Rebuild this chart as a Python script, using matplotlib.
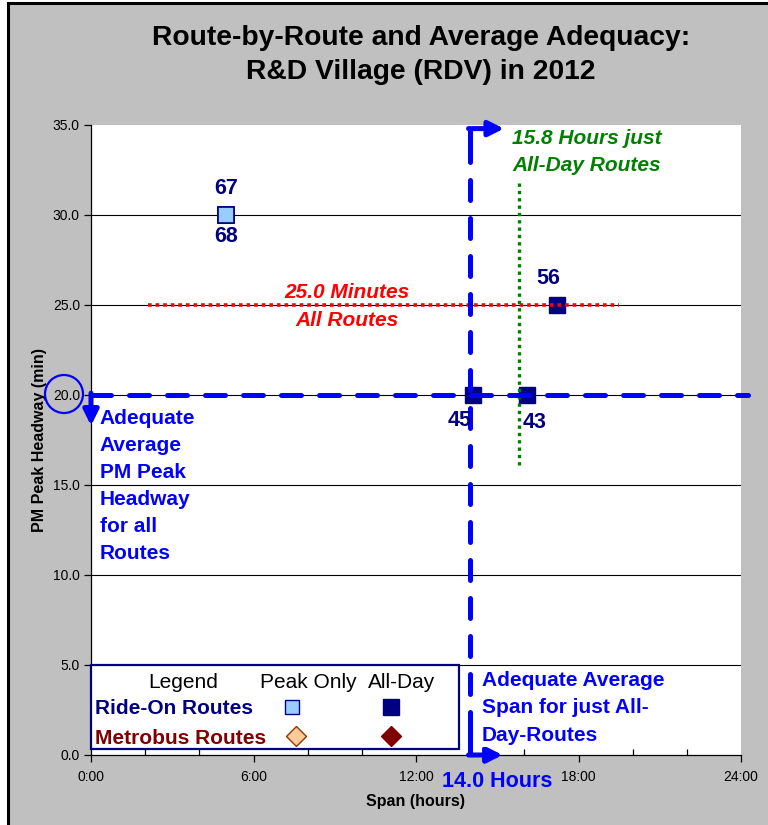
import matplotlib
matplotlib.use("Agg")
import matplotlib.pyplot as plt
from matplotlib.patches import Rectangle, Circle
from matplotlib.lines import Line2D

plt.rcParams['font.family'] = ['Liberation Sans', 'DejaVu Sans']

# ---- data ----
route_labels = ["67", "68", "56", "45", "43"]
route_span_h = [5.0, 5.0, 17.2, 14.1, 16.1]
route_headway = [30.0, 30.0, 25.0, 20.0, 20.0]
route_type = ["peak", "peak", "allday", "allday", "allday"]

adequate_headway = 20.0          # min, threshold
adequate_span = 14.0             # hours, threshold
avg_headway_all = 25.0           # min, all routes
avg_span_allday = 15.8           # hours, all-day routes only

x_ticks = [0, 6, 12, 18, 24]
x_tick_labels = ["0:00", "6:00", "12:00", "18:00", "24:00"]
y_ticks = [0, 5, 10, 15, 20, 25, 30, 35]

NAVY = "#000080"
LIGHTBLUE = "#99CCFF"
DARKRED = "#800000"
PEACH = "#FFCC99"
BLUE = "#0000FF"
GREEN = "#008000"
GRAY = "#C0C0C0"

W, H = 768, 825
fig = plt.figure(figsize=(W / 100, H / 100), dpi=100, facecolor="white")

# chart frame
fig.patches.append(Rectangle((7.5 / W, -0.1), 1.2, 1.1 - 3.5 / H,
                             transform=fig.transFigure, facecolor=GRAY,
                             edgecolor="black", linewidth=2.2, zorder=-5))

ax = fig.add_axes([91 / W, 70 / H, 650 / W, 630 / H])
ax.set_zorder(1)
ax.set_facecolor("white")
ax.set_xlim(0, 24)
ax.set_ylim(0, 35)
for s in ("top", "right"):
    ax.spines[s].set_visible(False)
for s in ("left", "bottom"):
    ax.spines[s].set_color("black")
    ax.spines[s].set_linewidth(0.9)

ax.set_xticks(x_ticks)
ax.set_xticklabels(x_tick_labels)
ax.set_xticks([2, 4, 8, 10, 14, 16, 20, 22], minor=True)
ax.set_yticks(y_ticks)
ax.set_yticklabels([f"{v:.1f}" for v in y_ticks])
ax.tick_params(axis="x", which="major", direction="out", length=5, width=0.9,
               labelsize=10, pad=6)
ax.tick_params(axis="x", which="minor", direction="in", length=4, width=0.9)
ax.tick_params(axis="y", which="major", direction="out", length=5, width=0.9,
               labelsize=10, pad=3)

for y in y_ticks[1:-1]:
    ax.axhline(y, color="black", linewidth=0.8, zorder=1)

ax.set_xlabel("Span (hours)", fontsize=11.5, fontweight="bold", labelpad=7)
ax.set_ylabel("PM Peak Headway (min)", fontsize=11.5, fontweight="bold", labelpad=4)

fig.text(421 / W, 1 - 55 / H,
         "Route-by-Route and Average Adequacy:\nR&D Village (RDV) in 2012",
         ha="center", va="center", fontsize=20.3, fontweight="bold",
         linespacing=1.42, color="black")

# ---- route markers ----
for lab, x, y, t in zip(route_labels, route_span_h, route_headway, route_type):
    if t == "peak":
        ax.plot(x, y, marker="s", markersize=11, markerfacecolor=LIGHTBLUE,
                markeredgecolor=NAVY, markeredgewidth=1.2, zorder=4, clip_on=False)
    else:
        ax.plot(x, y, marker="s", markersize=12, markerfacecolor=NAVY,
                markeredgecolor=NAVY, zorder=4, clip_on=False)

label_offsets = {"67": (0, 27), "68": (0, -22), "56": (-9, 27),
                 "45": (-13, -25), "43": (8, -28)}
for lab, x, y in zip(route_labels, route_span_h, route_headway):
    dx, dy = label_offsets[lab]
    ax.annotate(lab, (x, y), xytext=(dx * 0.72, dy * 0.72), textcoords="offset points",
                ha="center", va="center", fontsize=15.5, fontweight="bold",
                color=NAVY, zorder=6)

# ---- average lines ----
ax.plot([2.1, 19.5], [avg_headway_all, avg_headway_all], color="red",
        linewidth=2.6, linestyle=(0, (1, 1.1)), zorder=5)
ax.text(9.45, avg_headway_all - 0.08, "25.0 Minutes\nAll Routes", ha="center",
        va="center", fontsize=15, fontweight="bold", fontstyle="italic",
        color="red", linespacing=1.55, zorder=6)

ax.plot([avg_span_allday, avg_span_allday], [16.1, 31.8], color=GREEN,
        linewidth=2.4, linestyle=(0, (1, 1.2)), zorder=5)
ax.text(15.55, 33.5, f"{avg_span_allday:.1f} Hours just\nAll-Day Routes",
        ha="left", va="center", fontsize=15, fontweight="bold",
        fontstyle="italic", color=GREEN, linespacing=1.5, zorder=6,
        bbox=dict(facecolor="white", edgecolor="none", pad=1))

# ---- adequacy thresholds ----
dash = dict(color=BLUE, linewidth=3.6, dashes=(4, 3.6), dash_capstyle="round",
            solid_capstyle="round", zorder=5, clip_on=False)
ax.plot([0, 24.26], [adequate_headway, adequate_headway], **dash)
ax.plot([adequate_span, adequate_span], [1.3, 34.5], **dash)

arrow = dict(arrowstyle="-|>,head_length=0.9,head_width=0.45", color=BLUE,
             linewidth=3.6, shrinkA=0, shrinkB=0)
# top corner arrow
ax.plot([adequate_span, adequate_span], [33.5, 34.8], color=BLUE, linewidth=3.6,
        solid_capstyle="butt", zorder=5, clip_on=False)
ax.annotate("", xy=(15.25, 34.8), xytext=(adequate_span - 0.06, 34.8),
            arrowprops=arrow, annotation_clip=False, zorder=5)
# bottom corner arrow
ax.plot([adequate_span, adequate_span], [0.0, 1.3], color=BLUE, linewidth=3.6,
        solid_capstyle="butt", zorder=5, clip_on=False)
ax.annotate("", xy=(15.2, 0.0), xytext=(adequate_span - 0.06, 0.0),
            arrowprops=arrow, annotation_clip=False, zorder=5)
# left down arrow
ax.annotate("", xy=(0, 18.3), xytext=(0, adequate_headway + 0.1),
            arrowprops=arrow, annotation_clip=False, zorder=5)

fig.patches.append(Circle((64, H - 394), 19, transform=None, facecolor="none",
                          edgecolor=BLUE, linewidth=1.6, zorder=7))

ax.text(0.33, 19.25, "Adequate\nAverage\nPM Peak\nHeadway\nfor all\nRoutes",
        ha="left", va="top", fontsize=15, fontweight="bold", color=BLUE,
        linespacing=1.54, zorder=6)

ax.text(14.44, 4.68, "Adequate Average\nSpan for just All-\nDay-Routes",
        ha="left", va="top", fontsize=15, fontweight="bold", color=BLUE,
        linespacing=1.56, zorder=6,
        bbox=dict(facecolor="white", edgecolor="none", pad=1.5))

ax.text(15.0, -1.45, f"{adequate_span:.1f} Hours", ha="center", va="center",
        fontsize=15.5, fontweight="bold", color=BLUE, clip_on=False)

# ---- legend panel ----
def fx(px):
    return px / W


def fy(py):
    return 1 - py / H


lx0, ly0, lx1, ly1 = 91, 665, 459, 749
fig.add_artist(Rectangle((fx(lx0), fy(ly1)), (lx1 - lx0) / W, (ly1 - ly0) / H,
                         transform=fig.transFigure, facecolor="white",
                         edgecolor=NAVY, linewidth=1.6, zorder=8))

for txt, px in (("Legend", 183), ("Peak Only", 308), ("All-Day", 402)):
    fig.text(fx(px), fy(683), txt, ha="center", va="center", fontsize=15,
             color="black", zorder=9)
fig.text(fx(95), fy(709), "Ride-On Routes", ha="left", va="center",
         fontsize=15, fontweight="bold", color=NAVY, zorder=9)
fig.text(fx(95), fy(738), "Metrobus Routes", ha="left", va="center",
         fontsize=15, fontweight="bold", color=DARKRED, zorder=9)

legend_marks = [
    (292, 707, "s", 10.5, LIGHTBLUE, NAVY),
    (391, 707, "s", 11, NAVY, NAVY),
    (296, 736, "D", 10, PEACH, "#993300"),
    (391, 736, "D", 10, DARKRED, DARKRED),
]
for px, py, m, ms, fc, ec in legend_marks:
    fig.add_artist(Line2D([fx(px)], [fy(py)], marker=m, markersize=ms,
                          markerfacecolor=fc, markeredgecolor=ec,
                          markeredgewidth=1.0, linestyle="none",
                          transform=fig.transFigure, zorder=9))

fig.savefig("out.png", dpi=100, facecolor=fig.get_facecolor())
